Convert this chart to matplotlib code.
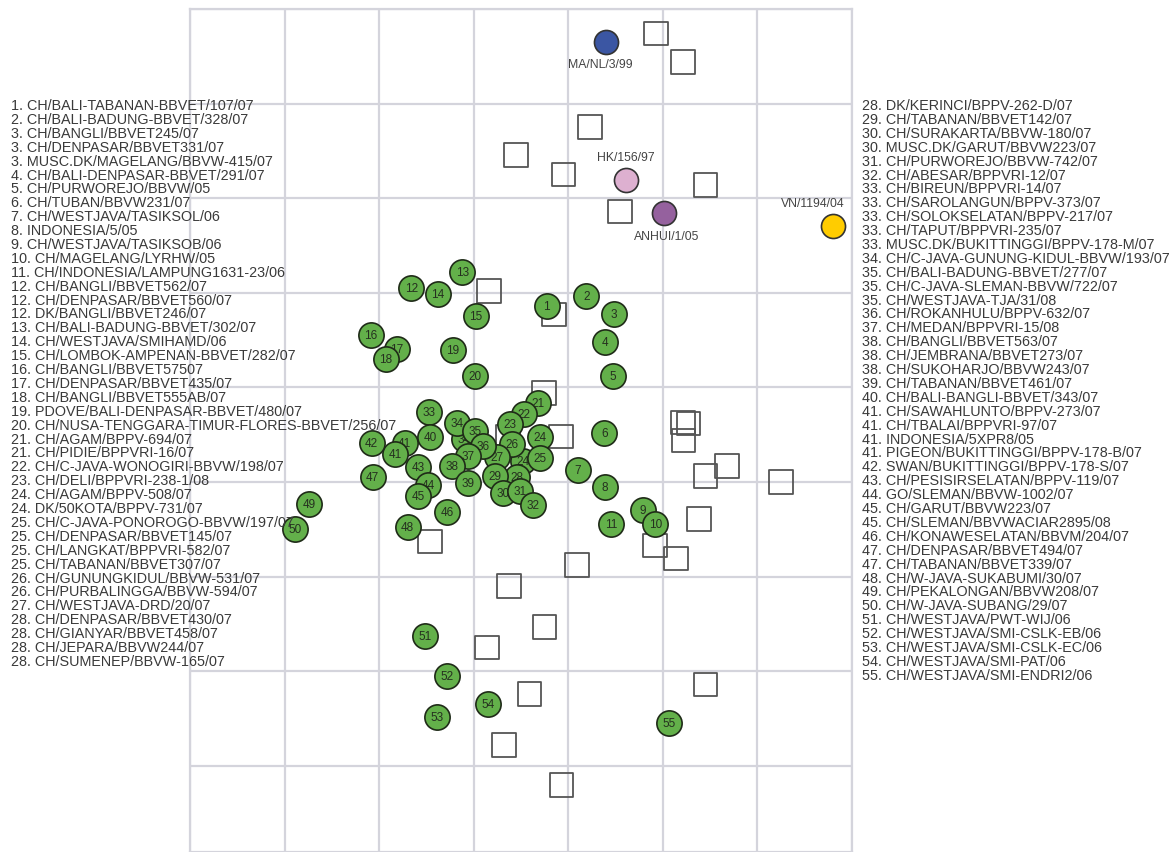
import matplotlib.pyplot as plt

plt.rcParams['font.family'] = ['Liberation Sans', 'DejaVu Sans']

# antigen positions (map units, y grows downward)
green_ids = ['41', '24', '34',
             '1', '2', '3', '4', '5', '6', '7', '8', '9', '10',
             '11', '12', '13', '14', '15', '16', '17', '18', '19', '20',
             '21', '22', '23', '24', '25', '26', '27', '28', '29', '30',
             '31', '32', '33', '34', '35', '36', '37', '38', '39', '40',
             '41', '42', '43', '44', '45', '46', '47', '48', '49', '50',
             '51', '52', '53', '54', '55']
green_x = [2.27, 3.52, 2.90,
           3.77, 4.19, 4.48, 4.39, 4.47, 4.38, 4.10, 4.39, 4.79, 4.92,
           4.45, 2.34, 2.88, 2.62, 3.02, 1.91, 2.19, 2.07, 2.78, 3.01,
           3.68, 3.53, 3.38, 3.70, 3.70, 3.41, 3.25, 3.46, 3.22, 3.31,
           3.49, 3.63, 2.53, 2.82, 3.01, 3.10, 2.94, 2.77, 2.94, 2.54,
           2.17, 1.92, 2.41, 2.52, 2.41, 2.72, 1.93, 2.30, 1.26, 1.11,
           2.49, 2.72, 2.61, 3.15, 5.07]
green_y = [4.59, 4.78, 4.55,
           3.14, 3.03, 3.22, 3.52, 3.88, 4.48, 4.87, 5.05, 5.30, 5.44,
           5.44, 2.95, 2.78, 3.01, 3.25, 3.45, 3.59, 3.70, 3.60, 3.88,
           4.16, 4.28, 4.39, 4.52, 4.75, 4.60, 4.74, 4.95, 4.94, 5.12,
           5.10, 5.24, 4.26, 4.38, 4.46, 4.62, 4.73, 4.83, 5.01, 4.52,
           4.70, 4.59, 4.84, 5.03, 5.15, 5.32, 4.95, 5.48, 5.23, 5.50,
           6.63, 7.05, 7.48, 7.35, 7.55]

# antisera
sera_x = [4.93, 5.21, 4.23, 3.45, 3.95, 5.45, 4.55, 3.16, 3.85, 3.74,
          3.92, 5.21, 5.27, 5.22, 3.36, 5.68, 5.45, 6.25, 5.38, 4.92,
          5.14, 4.09, 2.54, 3.37, 3.75, 3.14, 5.45, 3.59, 3.32, 3.93]
sera_y = [0.26, 0.56, 1.25, 1.54, 1.75, 1.86, 2.14, 2.98, 3.23, 4.06,
          4.52, 4.37, 4.38, 4.56, 4.52, 4.83, 4.94, 5.00, 5.39, 5.67,
          5.81, 5.88, 5.63, 6.10, 6.53, 6.75, 7.14, 7.24, 7.78, 8.20]

# reference viruses
ref_names = ['MA/NL/3/99', 'HK/156/97', 'ANHUI/1/05', 'VN/1194/04']
ref_x = [4.40, 4.61, 5.01, 6.80]
ref_y = [0.35, 1.81, 2.16, 2.29]
ref_colors = ['#3b56a3', '#ddb0d0', '#95619e', '#ffcc00']
ref_label_offsets = [(-4, -16), (0, 17), (2, -16), (-15, 16)]

left_labels = [
    '1. CH/BALI-TABANAN-BBVET/107/07', '2. CH/BALI-BADUNG-BBVET/328/07',
    '3. CH/BANGLI/BBVET245/07', '3. CH/DENPASAR/BBVET331/07',
    '3. MUSC.DK/MAGELANG/BBVW-415/07', '4. CH/BALI-DENPASAR-BBVET/291/07',
    '5. CH/PURWOREJO/BBVW/05', '6. CH/TUBAN/BBVW231/07',
    '7. CH/WESTJAVA/TASIKSOL/06', '8. INDONESIA/5/05',
    '9. CH/WESTJAVA/TASIKSOB/06', '10. CH/MAGELANG/LYRHW/05',
    '11. CH/INDONESIA/LAMPUNG1631-23/06', '12. CH/BANGLI/BBVET562/07',
    '12. CH/DENPASAR/BBVET560/07', '12. DK/BANGLI/BBVET246/07',
    '13. CH/BALI-BADUNG-BBVET/302/07', '14. CH/WESTJAVA/SMIHAMD/06',
    '15. CH/LOMBOK-AMPENAN-BBVET/282/07', '16. CH/BANGLI/BBVET57507',
    '17. CH/DENPASAR/BBVET435/07', '18. CH/BANGLI/BBVET555AB/07',
    '19. PDOVE/BALI-DENPASAR-BBVET/480/07',
    '20. CH/NUSA-TENGGARA-TIMUR-FLORES-BBVET/256/07',
    '21. CH/AGAM/BPPV-694/07', '21. CH/PIDIE/BPPVRI-16/07',
    '22. CH/C-JAVA-WONOGIRI-BBVW/198/07', '23. CH/DELI/BPPVRI-238-1/08',
    '24. CH/AGAM/BPPV-508/07', '24. DK/50KOTA/BPPV-731/07',
    '25. CH/C-JAVA-PONOROGO-BBVW/197/07', '25. CH/DENPASAR/BBVET145/07',
    '25. CH/LANGKAT/BPPVRI-582/07', '25. CH/TABANAN/BBVET307/07',
    '26. CH/GUNUNGKIDUL/BBVW-531/07', '26. CH/PURBALINGGA/BBVW-594/07',
    '27. CH/WESTJAVA-DRD/20/07', '28. CH/DENPASAR/BBVET430/07',
    '28. CH/GIANYAR/BBVET458/07', '28. CH/JEPARA/BBVW244/07',
    '28. CH/SUMENEP/BBVW-165/07']
right_labels = [
    '28. DK/KERINCI/BPPV-262-D/07', '29. CH/TABANAN/BBVET142/07',
    '30. CH/SURAKARTA/BBVW-180/07', '30. MUSC.DK/GARUT/BBVW223/07',
    '31. CH/PURWOREJO/BBVW-742/07', '32. CH/ABESAR/BPPVRI-12/07',
    '33. CH/BIREUN/BPPVRI-14/07', '33. CH/SAROLANGUN/BPPV-373/07',
    '33. CH/SOLOKSELATAN/BPPV-217/07', '33. CH/TAPUT/BPPVRI-235/07',
    '33. MUSC.DK/BUKITTINGGI/BPPV-178-M/07',
    '34. CH/C-JAVA-GUNUNG-KIDUL-BBVW/193/07',
    '35. CH/BALI-BADUNG-BBVET/277/07', '35. CH/C-JAVA-SLEMAN-BBVW/722/07',
    '35. CH/WESTJAVA-TJA/31/08', '36. CH/ROKANHULU/BPPV-632/07',
    '37. CH/MEDAN/BPPVRI-15/08', '38. CH/BANGLI/BBVET563/07',
    '38. CH/JEMBRANA/BBVET273/07', '38. CH/SUKOHARJO/BBVW243/07',
    '39. CH/TABANAN/BBVET461/07', '40. CH/BALI-BANGLI-BBVET/343/07',
    '41. CH/SAWAHLUNTO/BPPV-273/07', '41. CH/TBALAI/BPPVRI-97/07',
    '41. INDONESIA/5XPR8/05', '41. PIGEON/BUKITTINGGI/BPPV-178-B/07',
    '42. SWAN/BUKITTINGGI/BPPV-178-S/07', '43. CH/PESISIRSELATAN/BPPV-119/07',
    '44. GO/SLEMAN/BBVW-1002/07', '45. CH/GARUT/BBVW223/07',
    '45. CH/SLEMAN/BBVWACIAR2895/08', '46. CH/KONAWESELATAN/BBVM/204/07',
    '47. CH/DENPASAR/BBVET494/07', '47. CH/TABANAN/BBVET339/07',
    '48. CH/W-JAVA-SUKABUMI/30/07', '49. CH/PEKALONGAN/BBVW208/07',
    '50. CH/W-JAVA-SUBANG/29/07', '51. CH/WESTJAVA/PWT-WIJ/06',
    '52. CH/WESTJAVA/SMI-CSLK-EB/06', '53. CH/WESTJAVA/SMI-CSLK-EC/06',
    '54. CH/WESTJAVA/SMI-PAT/06', '55. CH/WESTJAVA/SMI-ENDRI2/06']

W, H = 1169, 853
fig = plt.figure(figsize=(W / 100, H / 100), dpi=100)
ax = fig.add_axes([190 / W, 0, 662 / W, 843 / H])
ax.set_xlim(0, 7)
ax.set_ylim(843 / 94.6, 0)
ax.set_xticks(range(0, 8))
ax.set_yticks(range(0, 9))
ax.tick_params(length=0, labelbottom=False, labelleft=False)
ax.grid(True, color='#d4d4dc', lw=1.6)
for sp in ax.spines.values():
    sp.set_color('#d4d4dc')
    sp.set_linewidth(1.6)
ax.set_axisbelow(True)

# antisera as open squares
ax.scatter(sera_x, sera_y, marker='s', s=290, facecolors='none',
           edgecolors='#555555', linewidths=1.3, zorder=2)

# test antigens, drawn one by one so later ones cover earlier labels
for i, (lab, x, y) in enumerate(zip(green_ids, green_x, green_y)):
    z = 3 + i * 0.01
    ax.scatter([x], [y], s=330, c='#63b04a', edgecolors='#1f2b18',
               linewidths=1.2, zorder=z)
    ax.text(x, y, lab, ha='center', va='center', fontsize=8.5,
            color='#25301f', zorder=z + 0.005)

for name, x, y, col, off in zip(ref_names, ref_x, ref_y, ref_colors,
                                 ref_label_offsets):
    ax.scatter([x], [y], s=300, c=col, edgecolors='#333333',
               linewidths=1.2, zorder=5)
    ax.annotate(name, (x, y), xytext=off, textcoords='offset points',
                ha='center', va='center', fontsize=8.8, color='#444444',
                zorder=6)

step = 13.9
for i, t in enumerate(left_labels):
    fig.text(11 / W, 1 - (106 + i * step) / H, t, ha='left', va='center',
             fontsize=10.4, color='#3a3a3a', zorder=10)
for i, t in enumerate(right_labels):
    fig.text(862 / W, 1 - (106 + i * step) / H, t, ha='left', va='center',
             fontsize=10.4, color='#3a3a3a', zorder=10)

fig.savefig('out.png', dpi=100)
